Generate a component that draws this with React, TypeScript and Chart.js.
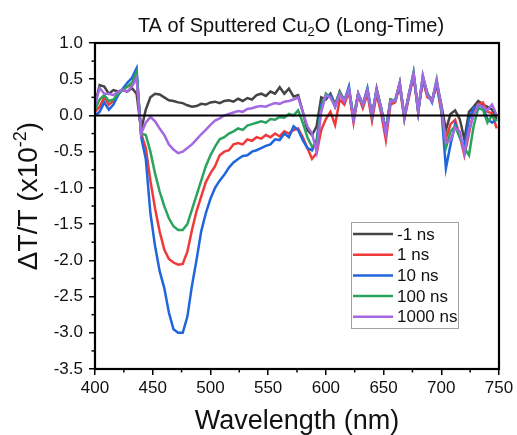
import React, { useEffect, useRef } from 'react';
import { Chart, registerables } from 'chart.js';

Chart.register(...registerables);

const wavelengths = [
  400, 404, 408, 412, 416, 420, 424, 428, 432, 436, 440, 444, 448, 452, 456, 460, 464, 468, 472, 476,
  480, 484, 488, 492, 496, 500, 504, 508, 512, 516, 520, 524, 528, 532, 536, 540, 544, 548, 552, 556,
  560, 564, 568, 572, 576, 580, 584, 588, 592, 596, 600, 604, 608, 612, 616, 620, 624, 628, 632, 636,
  640, 644, 648, 652, 656, 660, 664, 668, 672, 676, 680, 684, 688, 692, 696, 700, 704, 708, 712, 716,
  720, 724, 728, 732, 736, 740, 744, 748,
];

const seriesLabels = ['-1 ns', '1 ns', '10 ns', '100 ns', '1000 ns'];
const seriesColors = ['#444444', '#f03a3a', '#1f66dc', '#2ba35e', '#a468e2'];

const negOneNs = [
  0.15, 0.42, 0.4, 0.3, 0.35, 0.33, 0.35, 0.33, 0.38, 0.3, -0.2, 0.08, 0.25, 0.3, 0.29, 0.25, 0.21, 0.2, 0.18, 0.17,
  0.14, 0.12, 0.13, 0.16, 0.15, 0.18, 0.19, 0.17, 0.2, 0.21, 0.19, 0.23, 0.2, 0.24, 0.22, 0.28, 0.3, 0.27, 0.33, 0.3,
  0.39, 0.3, 0.37, 0.26, 0.28, 0.05, -0.2, -0.27, -0.15, 0.25, 0.22, 0.3, 0.15, 0.33, 0.2, 0.35, -0.05, 0.3, 0.15, 0.35,
  -0.02, 0.37, 0.08, -0.2, 0.22, 0.2, 0.45, -0.02, 0.3, 0.55, 0.08, 0.5, 0.3, 0.2, 0.45, 0.15, -0.2, 0.02, 0.07, -0.05,
  -0.33, 0.05, 0.12, 0.2, 0.15, 0.12, 0.08, -0.05,
];

const oneNs = [
  0.05, 0.12, 0.25, 0.15, 0.2, 0.3, 0.35, 0.4, 0.42, 0.55, -0.25, -0.45, -0.9, -1.28, -1.6, -1.85, -1.98, -2.03, -2.06, -2.05,
  -1.88, -1.58, -1.32, -1.12, -0.92, -0.8, -0.7, -0.55, -0.5, -0.48, -0.4, -0.38, -0.4, -0.33, -0.35, -0.3, -0.32, -0.27, -0.3, -0.25,
  -0.29, -0.22, -0.25, -0.2, -0.18, -0.3, -0.45, -0.6, -0.52, -0.2, -0.05, 0.05, -0.13, 0.22, 0.15, 0.33, -0.1, 0.28, 0.1, 0.3,
  -0.07, 0.3, 0.02, -0.34, 0.15, 0.18, 0.4, -0.05, 0.25, 0.55, 0.05, 0.48, 0.25, 0.22, 0.42, 0.05, -0.32, -0.12, -0.06, -0.28,
  -0.55, -0.25, 0.05, 0.15, 0.18, 0.05, 0.03, -0.18,
];

const tenNs = [
  0.0, 0.05, 0.18, 0.08, 0.15, 0.28, 0.37, 0.45, 0.52, 0.65, -0.3, -0.6, -1.35, -1.8, -2.15, -2.38, -2.72, -2.95, -3.0, -3.0,
  -2.78, -2.35, -1.99, -1.6, -1.35, -1.15, -1.0, -0.9, -0.82, -0.72, -0.65, -0.6, -0.56, -0.55, -0.5, -0.48, -0.45, -0.42, -0.4, -0.33,
  -0.34, -0.25, -0.3, -0.15, -0.2, -0.34, -0.45, -0.48, -0.34, 0.15, 0.25, 0.28, 0.12, 0.3, 0.2, 0.4, -0.05, 0.3, 0.15, 0.38,
  0.0, 0.35, 0.1, -0.22, 0.2, 0.2, 0.42, 0.0, 0.28, 0.58, 0.05, 0.52, 0.3, 0.18, 0.45, 0.1, -0.73, -0.4, -0.12, -0.3,
  -0.43, -0.05, 0.1, 0.14, 0.12, -0.05, -0.1, -0.05,
];

const hundredNs = [
  0.08, 0.22, 0.28, 0.2, 0.22, 0.3, 0.35, 0.4, 0.45, 0.6, -0.25, -0.27, -0.5, -0.8, -1.05, -1.25, -1.42, -1.53, -1.58, -1.58,
  -1.5, -1.3, -1.1, -0.9, -0.7, -0.55, -0.43, -0.33, -0.3, -0.25, -0.22, -0.18, -0.2, -0.14, -0.12, -0.1, -0.08, -0.1, -0.05, -0.06,
  -0.02, -0.03, 0.02, 0.0, 0.07, -0.1, -0.3, -0.43, -0.39, 0.1, 0.3, 0.25, 0.15, 0.32, 0.22, 0.35, -0.02, 0.3, 0.15, 0.35,
  0.0, 0.35, 0.1, -0.22, 0.22, 0.2, 0.45, -0.04, 0.3, 0.6, 0.05, 0.55, 0.3, 0.2, 0.5, 0.1, -0.45, -0.22, -0.15, -0.3,
  -0.45, -0.55, -0.15, 0.1, 0.08, -0.1, 0.0, -0.08,
];

const thousandNs = [
  0.15, 0.38, 0.3, 0.3, 0.28, 0.33, 0.35, 0.33, 0.4, 0.52, -0.25, -0.1, -0.02, -0.08, -0.18, -0.27, -0.4, -0.47, -0.52, -0.5,
  -0.45, -0.4, -0.33, -0.26, -0.2, -0.13, -0.07, -0.04, 0.0, 0.02, 0.04, 0.06, 0.05, 0.09, 0.1, 0.12, 0.13, 0.12, 0.15, 0.17,
  0.16, 0.19, 0.2, 0.22, 0.25, 0.05, -0.15, -0.25, -0.5, 0.05, 0.28, 0.25, 0.12, 0.3, 0.2, 0.36, -0.06, 0.3, 0.15, 0.35,
  0.0, 0.35, 0.08, -0.25, 0.2, 0.2, 0.45, -0.03, 0.3, 0.58, 0.05, 0.55, 0.28, 0.2, 0.48, 0.12, -0.38, -0.34, -0.17, -0.22,
  -0.52, -0.2, 0.0, 0.15, 0.12, 0.07, 0.15, 0.0,
];

const seriesValues = [negOneNs, oneNs, tenNs, hundredNs, thousandNs];

const xMin = 400;
const xMax = 750;
const xStep = 50;
const yMin = -3.5;
const yMax = 1.0;
const yStep = 0.5;

const FONT = "'Liberation Sans', Arial, sans-serif";

const decorPlugin = {
  id: 'decor',
  afterDatasetsDraw(chart: any) {
    const { ctx, chartArea: a, scales } = chart;
    const x = scales.x;
    const y = scales.y;
    ctx.save();
    ctx.strokeStyle = '#000';
    const y0 = y.getPixelForValue(0);
    ctx.lineWidth = 2;
    ctx.beginPath();
    ctx.moveTo(a.left, y0);
    ctx.lineTo(a.right, y0);
    ctx.stroke();
    ctx.lineWidth = 2.2;
    ctx.strokeRect(a.left, a.top, a.right - a.left, a.bottom - a.top);
    ctx.lineWidth = 1.5;
    for (let v = yMin + yStep / 2; v < yMax; v += yStep) {
      const py = y.getPixelForValue(v);
      ctx.beginPath();
      ctx.moveTo(a.left - 3.5, py);
      ctx.lineTo(a.left, py);
      ctx.stroke();
    }
    for (let w = xMin + xStep / 2; w < xMax; w += xStep) {
      const px = x.getPixelForValue(w);
      ctx.beginPath();
      ctx.moveTo(px, a.bottom);
      ctx.lineTo(px, a.bottom + 3.5);
      ctx.stroke();
    }
    ctx.restore();
  },
  afterDraw(chart: any) {
    const { ctx, chartArea: a } = chart;
    ctx.save();
    ctx.fillStyle = '#111';
    ctx.textBaseline = 'alphabetic';
    ctx.textAlign = 'left';

    const tFont = `20px ${FONT}`;
    const sFont = `13px ${FONT}`;
    const p1 = 'TA of Sputtered Cu';
    const p2 = '2';
    const p3 = 'O (Long-Time)';
    ctx.font = tFont;
    const w1 = ctx.measureText(p1).width;
    const w3 = ctx.measureText(p3).width;
    ctx.font = sFont;
    const w2 = ctx.measureText(p2).width;
    const total = w1 + w2 + w3;
    let tx = 291 - total / 2;
    const ty = 32;
    ctx.font = tFont;
    ctx.fillText(p1, tx, ty);
    tx += w1;
    ctx.font = sFont;
    ctx.fillText(p2, tx, ty + 4);
    tx += w2;
    ctx.font = tFont;
    ctx.fillText(p3, tx, ty);

    ctx.font = `27px ${FONT}`;
    ctx.textAlign = 'center';
    ctx.fillText('Wavelength (nm)', (a.left + a.right) / 2, 429);

    ctx.save();
    ctx.translate(37, 196);
    ctx.rotate(-Math.PI / 2);
    const yf = `28px ${FONT}`;
    const ysf = `18px ${FONT}`;
    const q1 = '\u0394T/T (x10';
    const q2 = '-2';
    const q3 = ')';
    ctx.font = yf;
    const v1 = ctx.measureText(q1).width;
    const v3 = ctx.measureText(q3).width;
    ctx.font = ysf;
    const v2 = ctx.measureText(q2).width;
    let qx = -(v1 + v2 + v3) / 2;
    ctx.textAlign = 'left';
    ctx.font = yf;
    ctx.fillText(q1, qx, 0);
    qx += v1;
    ctx.font = ysf;
    ctx.fillText(q2, qx, -11);
    qx += v2;
    ctx.font = yf;
    ctx.fillText(q3, qx, 0);
    ctx.restore();

    const lx = 351.5;
    const ly = 222.5;
    const lw = 107;
    const lh = 106;
    ctx.fillStyle = '#fff';
    ctx.fillRect(lx, ly, lw, lh);
    ctx.strokeStyle = '#a0a0a0';
    ctx.lineWidth = 1;
    ctx.strokeRect(lx, ly, lw, lh);
    ctx.font = `17px ${FONT}`;
    ctx.textBaseline = 'middle';
    ctx.textAlign = 'left';
    chart.data.datasets.forEach((ds: any, i: number) => {
      const ry = 234 + i * 20.7;
      ctx.strokeStyle = ds.borderColor;
      ctx.lineWidth = 2.5;
      ctx.beginPath();
      ctx.moveTo(353, ry);
      ctx.lineTo(393, ry);
      ctx.stroke();
      ctx.fillStyle = '#111';
      ctx.fillText(ds.label, 397, ry + 1);
    });
    ctx.restore();
  },
};

export default function App() {
  const canvasRef = useRef<HTMLCanvasElement | null>(null);

  useEffect(() => {
    const canvas = canvasRef.current;
    if (!canvas) return;
    const datasets = seriesLabels.map((label, i) => ({
      label,
      data: wavelengths.map((w, k) => ({ x: w, y: seriesValues[i][k] })),
      borderColor: seriesColors[i],
      backgroundColor: seriesColors[i],
      borderWidth: 2.5,
      pointRadius: 0,
      tension: 0,
      fill: false,
      order: seriesLabels.length - i,
    }));
    const chart = new Chart(canvas, {
      type: 'line',
      data: { datasets },
      options: {
        responsive: false,
        animation: false,
        layout: { padding: { top: 43, right: 18, left: 0, bottom: 0 } },
        plugins: {
          legend: { display: false },
          title: { display: false },
          tooltip: { enabled: false },
        },
        scales: {
          x: {
            type: 'linear',
            min: xMin,
            max: xMax,
            afterFit: (s: any) => {
              s.height = 66;
            },
            ticks: {
              stepSize: xStep,
              padding: 3,
              color: '#111',
              font: { family: FONT, size: 17 },
              maxRotation: 0,
            },
            grid: {
              drawOnChartArea: false,
              drawTicks: true,
              tickLength: 6,
              color: '#000',
              lineWidth: 1.5,
            },
            border: { display: false },
          },
          y: {
            type: 'linear',
            min: yMin,
            max: yMax,
            afterFit: (s: any) => {
              s.width = 95;
            },
            ticks: {
              stepSize: yStep,
              padding: 6,
              color: '#111',
              font: { family: FONT, size: 17 },
              callback: (v: any) => Number(v).toFixed(1),
            },
            grid: {
              drawOnChartArea: false,
              drawTicks: true,
              tickLength: 6,
              color: '#000',
              lineWidth: 1.5,
            },
            border: { display: false },
          },
        },
      },
      plugins: [decorPlugin],
    });
    return () => chart.destroy();
  }, []);

  return (
    <div style={{ position: 'absolute', left: 0, top: 0, width: 517, height: 435, background: '#fff' }}>
      <canvas ref={canvasRef} width={517} height={435} style={{ display: 'block' }} />
    </div>
  );
}
